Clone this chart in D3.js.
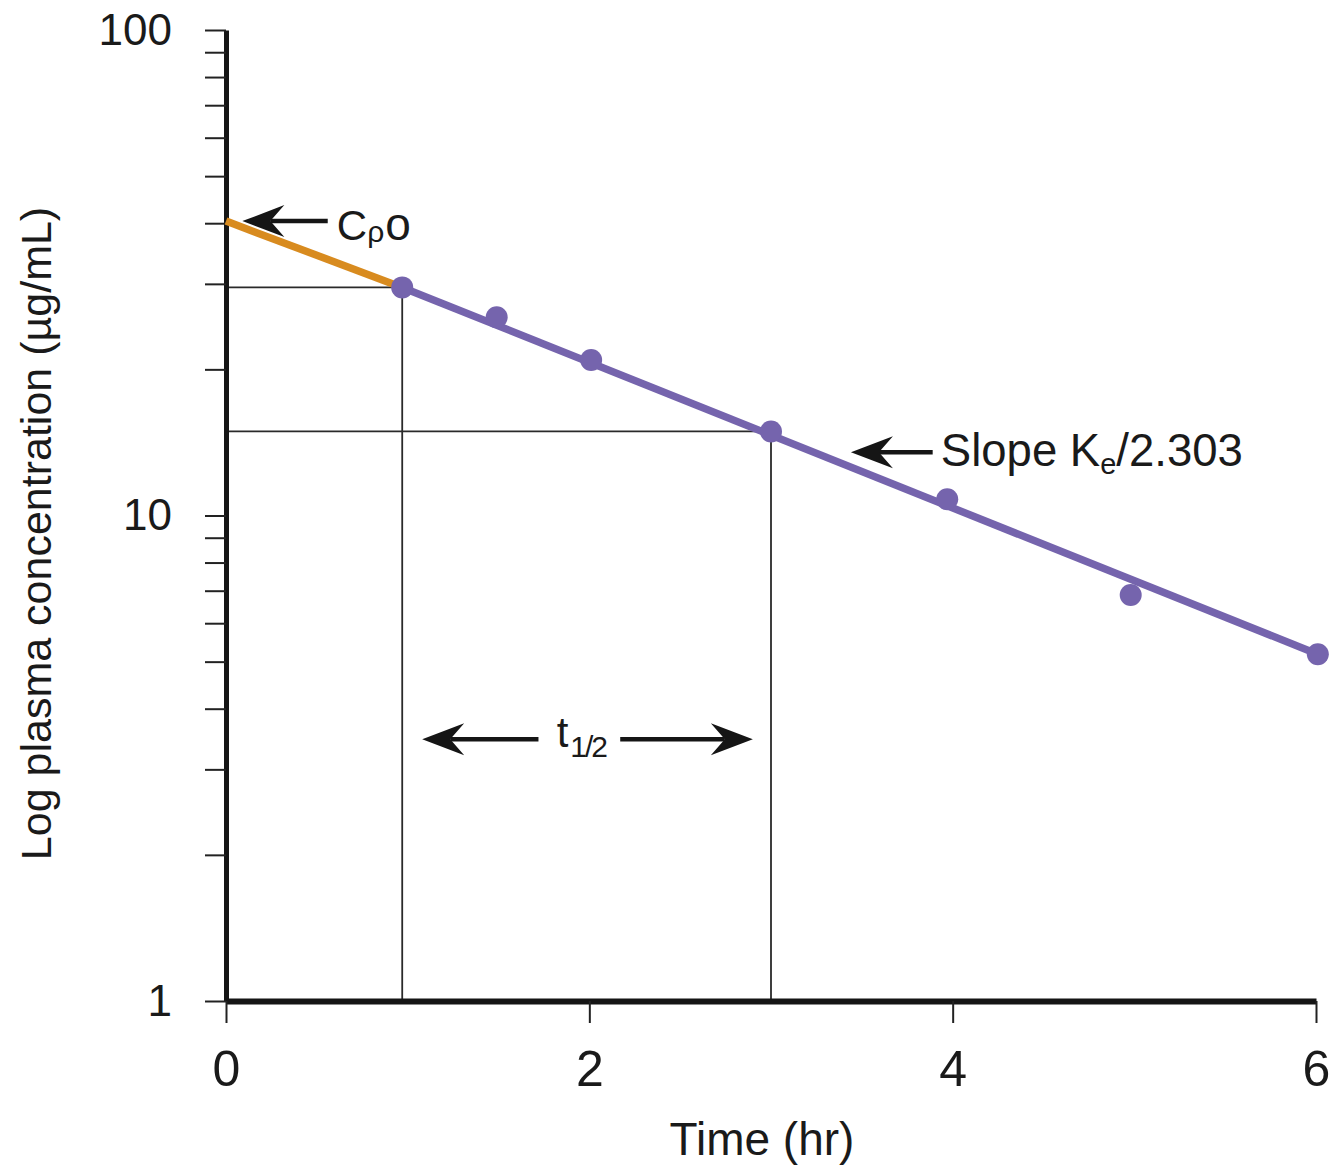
<!DOCTYPE html>
<html>
<head>
<meta charset="utf-8">
<script src="https://cdn.jsdelivr.net/npm/d3@7"></script>
<style>
  html, body { margin: 0; padding: 0; background: #fff; }
  svg { display: block; }
  text { font-family: "Liberation Sans", Arial, Helvetica, sans-serif; fill: #1a1a1a; }
</style>
</head>
<body>
<svg id="chart" width="1330" height="1167"></svg>
<script>
// ---------- data ----------
const timeHr        = [0.97, 1.49, 2.01, 3.0, 3.97, 4.98, 6.01];
const concentration = [29.5, 25.6, 20.9, 14.9, 10.8, 6.86, 5.18];

// back-extrapolated segment (to Cp0) and fitted elimination line
const extrapTime = [0, 0.97];
const extrapConc = [40.4, 29.5];
const fitTime    = [0.97, 6.01];
const fitConc    = [29.5, 5.18];

// half-life guide points (index into data)
const halfLifeStart = 0;   // t = 0.97 hr, 29.5 ug/mL
const halfLifeEnd   = 3;   // t = 3.0 hr, 14.9 ug/mL

const xTickValues = [0, 2, 4, 6];
const yMajorTicks = [1, 10, 100];
const yMinorTicks = [2, 3, 4, 5, 6, 7, 8, 9, 20, 30, 40, 50, 60, 70, 80, 90];

const xAxisTitle = "Time (hr)";
const yAxisTitle = "Log plasma concentration (µg/mL)";

// annotation anchors, in data units [time, concentration]
const cp0Arrow   = { from: [0.56, 40.4], to: [0.09, 40.4], label: [0.61, 40.4] };
const slopeArrow = { from: [3.89, 13.5], to: [3.44, 13.5], label: [3.935, 13.5] };
const halfArrowL = { from: [1.72, 3.46], to: [1.08, 3.46] };
const halfArrowR = { from: [2.17, 3.46], to: [2.90, 3.46] };
const halfLabel  = [1.82, 3.46];

// ---------- scales ----------
const svg = d3.select("#chart");
const x = d3.scaleLinear().domain([0, 6]).range([226, 1316]);
const y = d3.scaleLog().domain([1, 100]).range([1001, 30]);

const purple = "#7564ad";
const orange = "#d88b1f";
const ink = "#151515";

// ---------- reference (guide) lines ----------
const guides = svg.append("g").attr("stroke", "#2a2a2a").attr("stroke-width", 1.8).attr("fill", "none");
[halfLifeStart, halfLifeEnd].forEach(i => {
  guides.append("line")
    .attr("x1", x(0)).attr("x2", x(timeHr[i]))
    .attr("y1", y(concentration[i])).attr("y2", y(concentration[i]));
  guides.append("line")
    .attr("x1", x(timeHr[i])).attr("x2", x(timeHr[i]))
    .attr("y1", y(concentration[i])).attr("y2", y(1));
});

// ---------- axes ----------
const yAxis = d3.axisLeft(y)
  .tickValues(yMajorTicks.concat(yMinorTicks))
  .tickSize(21)
  .tickSizeOuter(0)
  .tickPadding(33)
  .tickFormat(d => yMajorTicks.includes(d) ? String(d) : "");
const gy = svg.append("g").attr("transform", `translate(${x(0)},0)`).call(yAxis);
gy.select(".domain").attr("stroke", ink).attr("stroke-width", 5);
gy.selectAll(".tick line").attr("stroke", "#222").attr("stroke-width", 2);
gy.selectAll(".tick text").attr("font-size", 44).attr("fill", "#1a1a1a")
  .attr("font-family", "'Liberation Sans', Arial, sans-serif");

const xAxis = d3.axisBottom(x)
  .tickValues(xTickValues)
  .tickSize(22)
  .tickSizeOuter(0)
  .tickPadding(27)
  .tickFormat(d3.format("d"));
const gx = svg.append("g").attr("transform", `translate(0,${y(1)})`).call(xAxis);
gx.select(".domain").attr("stroke", ink).attr("stroke-width", 6);
gx.selectAll(".tick line").attr("stroke", "#222").attr("stroke-width", 2);
gx.selectAll(".tick text").attr("font-size", 50).attr("fill", "#1a1a1a")
  .attr("font-family", "'Liberation Sans', Arial, sans-serif");

// axis titles
svg.append("text")
  .attr("x", (x(0) + x(6)) / 2 - 9)
  .attr("y", 1155)
  .attr("text-anchor", "middle")
  .attr("font-size", 46)
  .text(xAxisTitle);

svg.append("text")
  .attr("transform", `translate(51,${(y(1) + y(100)) / 2 + 18}) rotate(-90)`)
  .attr("text-anchor", "middle")
  .attr("font-size", 43)
  .text(yAxisTitle);

// ---------- fitted lines ----------
const line = d3.line().x(d => x(d[0])).y(d => y(d[1]));
svg.append("path")
  .datum(extrapTime.map((t, i) => [t, extrapConc[i]]))
  .attr("d", line).attr("fill", "none")
  .attr("stroke", orange).attr("stroke-width", 7.5);
svg.append("path")
  .datum(fitTime.map((t, i) => [t, fitConc[i]]))
  .attr("d", line).attr("fill", "none")
  .attr("stroke", purple).attr("stroke-width", 7.5);

// ---------- data points ----------
svg.append("g").selectAll("circle")
  .data(timeHr.map((t, i) => [t, concentration[i]]))
  .join("circle")
  .attr("cx", d => x(d[0])).attr("cy", d => y(d[1]))
  .attr("r", 11).attr("fill", purple);

// ---------- arrows ----------
function arrow(a) {
  const x1 = x(a.from[0]), y1 = y(a.from[1]);
  const x2 = x(a.to[0]), y2 = y(a.to[1]);
  const ang = Math.atan2(y2 - y1, x2 - x1) * 180 / Math.PI;
  const L = 42, H = 16, N = 28;
  const g = svg.append("g");
  g.append("line")
    .attr("x1", x1).attr("y1", y1)
    .attr("x2", x2 - (N) * Math.cos(ang * Math.PI / 180))
    .attr("y2", y2 - (N) * Math.sin(ang * Math.PI / 180))
    .attr("stroke", ink).attr("stroke-width", 4.5);
  g.append("path")
    .attr("d", `M0,0 L${-L},${-H} L${-N},0 L${-L},${H} Z`)
    .attr("transform", `translate(${x2},${y2}) rotate(${ang})`)
    .attr("fill", ink);
}
arrow(cp0Arrow);
arrow(slopeArrow);
arrow(halfArrowL);
arrow(halfArrowR);

// ---------- labels ----------
const cp = svg.append("text")
  .attr("x", x(cp0Arrow.label[0])).attr("y", y(cp0Arrow.label[1]) + 19)
  .attr("font-size", 42);
cp.append("tspan").text("C");
cp.append("tspan").attr("font-size", 30).attr("dy", 2).text("ρ");
cp.append("tspan").attr("font-size", 46).attr("dy", -2).attr("dx", 1).text("o");

const sl = svg.append("text")
  .attr("x", x(slopeArrow.label[0])).attr("y", y(slopeArrow.label[1]) + 14)
  .attr("font-size", 45.5);
sl.append("tspan").text("Slope K");
sl.append("tspan").attr("font-size", 29).attr("dy", 8).text("e");
sl.append("tspan").attr("dy", -8).text("/2.303");

const th = svg.append("text")
  .attr("x", x(halfLabel[0])).attr("y", y(halfLabel[1]) + 8)
  .attr("font-size", 42);
th.append("tspan").text("t");
th.append("tspan").attr("font-size", 30).attr("dy", 10).attr("dx", 2)
  .attr("letter-spacing", -2).text("1/2");
</script>
</body>
</html>
